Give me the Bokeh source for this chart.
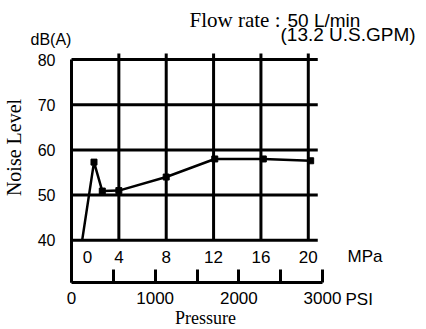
import math
from bokeh.plotting import figure
from bokeh.models import Range1d, LinearAxis, FixedTicker, Label
from bokeh.embed import file_html
from bokeh.resources import INLINE

# ---- data ----
pressure_mpa = [0.9, 1.9, 2.6, 4.0, 8.0, 12.1, 16.2, 20.2]
noise_db = [40.0, 57.3, 50.9, 51.0, 54.0, 58.0, 58.0, 57.6]
db_ticks = [40, 50, 60, 70, 80]
mpa_grid = [4, 8, 12, 16, 20]
mpa_tick_pos = [1.35, 4, 8, 12, 16, 20]
mpa_tick_labels = ["0", "4", "8", "12", "16", "20"]
psi_ticks = [0, 500, 1000, 1500, 2000, 2500, 3000]
psi_tick_labels = ["0", "", "1000", "", "2000", "", "3000"]

# ---- layout (pixel geometry of the plotting box) ----
W, H = 426, 329
PX_LEFT, PX_RIGHT = 71, 322      # 0 MPa / 0 PSI ... 3000 PSI
PX_BOTTOM, PX_TOP = 282, 53      # PSI axis line ... top of grid
MPA_RIGHT = 21.2
DB_BOTTOM, DB_TOP = 30.67, 81.33
GRID_END = 20.8
SX = (PX_RIGHT - PX_LEFT) / MPA_RIGHT
SY = (PX_BOTTOM - PX_TOP) / (DB_TOP - DB_BOTTOM)
SP = (PX_RIGHT - PX_LEFT) / 3000.0
TEXT_SHIFT = 6  # label baseline correction


def dx(px):
    return (px - PX_LEFT) / SX


def dy(py):
    return DB_BOTTOM + (PX_BOTTOM - py) / SY


SANS = "Liberation Sans"
SERIF = "Liberation Serif"

p = figure(width=W, height=H, output_backend="svg", toolbar_location=None,
           x_range=Range1d(dx(0), dx(W)), y_range=Range1d(dy(H), dy(0)),
           min_border_left=0, min_border_right=0, min_border_top=0,
           min_border_bottom=0, x_axis_type=None, y_axis_type=None)
p.outline_line_color = None
p.background_fill_color = "white"
p.border_fill_color = "white"
p.extra_x_ranges = {"psi": Range1d((0 - PX_LEFT) / SP, (W - PX_LEFT) / SP)}

# left axis (dB)
yax = LinearAxis(ticker=FixedTicker(ticks=db_ticks), bounds=(DB_BOTTOM, 80),
                 fixed_location=0,
                 axis_line_width=3, axis_line_color="black",
                 major_tick_out=0, major_tick_in=0,
                 minor_tick_line_color=None, major_label_standoff=16,
                 major_label_text_font=SANS, major_label_text_font_size="16px",
                 major_label_text_color="black")
p.add_layout(yax, "left")

# PSI axis
psi_ax = LinearAxis(x_range_name="psi", ticker=FixedTicker(ticks=psi_ticks),
                    bounds=(0, 3000), fixed_location=DB_BOTTOM,
                    major_label_overrides={t: l for t, l in zip(psi_ticks, psi_tick_labels)},
                    axis_line_width=3, axis_line_color="black",
                    major_tick_line_width=3, major_tick_line_color="black",
                    major_tick_in=13, major_tick_out=0,
                    minor_tick_line_color=None, major_label_standoff=9,
                    major_label_text_font=SANS, major_label_text_font_size="17px",
                    major_label_text_color="black")
p.add_layout(psi_ax, "below")

# MPa axis, sitting under the 40 dB line
mpa_ax = LinearAxis(ticker=FixedTicker(ticks=mpa_tick_pos), fixed_location=40,
                    major_label_overrides={t: l for t, l in zip(mpa_tick_pos, mpa_tick_labels)},
                    axis_line_color=None,
                    major_tick_line_color=None, minor_tick_line_color=None,
                    major_label_standoff=5,
                    major_label_text_font=SANS, major_label_text_font_size="17px",
                    major_label_text_color="black")
p.add_layout(mpa_ax, "below")

# grid lines
p.segment(x0=[0] * len(db_ticks), y0=db_ticks, x1=[GRID_END] * len(db_ticks), y1=db_ticks,
          line_width=3, line_color="black")
p.segment(x0=mpa_grid, y0=[40] * len(mpa_grid), x1=mpa_grid, y1=[DB_TOP] * len(mpa_grid),
          line_width=3, line_color="black")

# data
p.line(pressure_mpa, noise_db, line_width=2.5, line_color="black")
p.scatter(pressure_mpa[1:], noise_db[1:], marker="square", size=6,
          fill_color="black", line_color="black")


def lab(px, py, text, font, size, align="left", angle=0.0):
    if angle:
        px -= TEXT_SHIFT
    else:
        py -= TEXT_SHIFT
    p.add_layout(Label(x=dx(px), y=dy(py), text=text, text_font=font,
                       text_font_size=size, text_align=align,
                       text_baseline="alphabetic", text_color="black",
                       angle=angle))


lab(189, 25.7, "Flow rate : ", SERIF, "21px")
lab(287, 25.7, "50 L/min", SANS, "19px")
lab(280, 40, "(13.2 U.S.GPM)", SANS, "19px")
lab(50.5, 45, "dB(A)", SANS, "16px", align="center")
lab(19, 147, "Noise Level", SERIF, "20px", align="center", angle=math.pi / 2)
lab(205, 323, "Pressure", SERIF, "18px", align="center")
lab(347, 262, "MPa", SANS, "17px")
lab(345, 305, "PSI", SANS, "17px")

open("out.html", "w").write(file_html(p, INLINE))
